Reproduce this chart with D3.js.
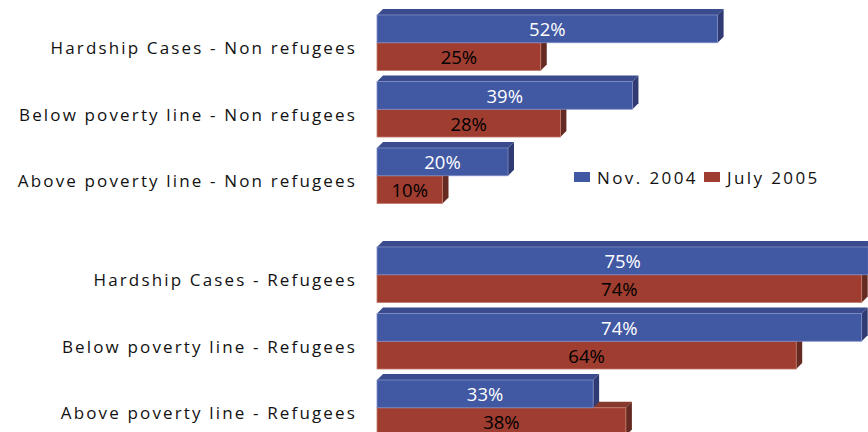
<!DOCTYPE html>
<html>
<head>
<meta charset="utf-8">
<script src="https://cdn.jsdelivr.net/npm/d3@7"></script>
<style>
  body { margin: 0; background: #fff; }
  svg { display: block; font-family: "Open Sans", sans-serif; }
</style>
</head>
<body>
<div id="chart"></div>
<script>
// Data
const seriesNames = ['Nov. 2004', 'July 2005'];
const categoriesNonRefugees = ['Hardship Cases - Non refugees', 'Below poverty line - Non refugees', 'Above poverty line - Non refugees'];
const nov2004NonRefugees = [52, 39, 20];
const july2005NonRefugees = [25, 28, 10];
const categoriesRefugees = ['Hardship Cases - Refugees', 'Below poverty line - Refugees', 'Above poverty line - Refugees'];
const nov2004Refugees = [75, 74, 33];
const july2005Refugees = [74, 64, 38];

// Dimensions
const dimensions = { width: 868, height: 432, depth: 6 };

const colors = {
    'Nov. 2004': { front: '#4158a3', top: '#3a4b8e', side: '#2f3b72', edge: '#7f8dc5', text: '#ffffff' },
    'July 2005': { front: '#9e3d30', top: '#86392c', side: '#652a22', edge: '#c47a6d', text: '#000000' }
};

const xScale = d3.scaleLinear()
    .domain([0, 100])
    .range([377, 1032]);

const svg = d3.select('#chart')
    .append('svg')
    .attr('width', dimensions.width)
    .attr('height', dimensions.height);

function drawGroup(categories, novValues, julValues, yStart, yEnd) {
    const rows = categories.map((c, i) => ({
        category: c,
        values: [
            { series: 'July 2005', value: julValues[i] },
            { series: 'Nov. 2004', value: novValues[i] }
        ]
    }));

    const yScale = d3.scaleBand()
        .domain(categories)
        .range([yStart, yEnd])
        .padding(0.165);

    const inner = d3.scaleBand()
        .domain(seriesNames)
        .range([0, yScale.bandwidth()]);

    const g = svg.append('g');
    const d = dimensions.depth;
    const x0 = xScale(0);

    const row = g.selectAll('g.row')
        .data(rows)
        .join('g')
        .attr('class', 'row')
        .attr('transform', r => `translate(0, ${yScale(r.category)})`);

    // red drawn first so the blue bar above covers its top face
    const bar = row.selectAll('g.bar')
        .data(r => r.values)
        .join('g')
        .attr('class', 'bar');

    const h = inner.bandwidth();

    bar.append('polygon') // top face
        .attr('points', b => {
            const y = inner(b.series), x1 = xScale(b.value);
            return `${x0},${y} ${x0 + d},${y - d} ${x1 + d},${y - d} ${x1},${y}`;
        })
        .attr('fill', b => colors[b.series].top);

    bar.append('polygon') // side face
        .attr('points', b => {
            const y = inner(b.series), x1 = xScale(b.value);
            return `${x1},${y} ${x1 + d},${y - d} ${x1 + d},${y + h - d} ${x1},${y + h}`;
        })
        .attr('fill', b => colors[b.series].side);

    bar.append('rect') // front face
        .attr('x', x0)
        .attr('y', b => inner(b.series))
        .attr('width', b => xScale(b.value) - x0)
        .attr('height', h)
        .attr('fill', b => colors[b.series].front)
        .attr('stroke', b => colors[b.series].edge)
        .attr('stroke-width', 0.8);

    bar.append('text')
        .attr('x', b => (x0 + xScale(b.value)) / 2)
        .attr('y', b => inner(b.series) + h / 2)
        .attr('text-anchor', 'middle')
        .attr('dominant-baseline', 'central')
        .attr('fill', b => colors[b.series].text)
        .style('font-size', '18.5px')
        .text(b => b.value + '%');

    // Category labels
    g.selectAll('text.cat')
        .data(categories)
        .join('text')
        .attr('class', 'cat')
        .attr('x', 357)
        .attr('y', c => yScale(c) + yScale.bandwidth() / 2 + 5)
        .attr('text-anchor', 'end')
        .attr('dominant-baseline', 'central')
        .attr('fill', '#111')
        .style('font-size', '17px')
        .style('letter-spacing', '2.15px')
        .text(c => c);
}

drawGroup(categoriesNonRefugees, nov2004NonRefugees, july2005NonRefugees, 4, 214.5);
drawGroup(categoriesRefugees, nov2004Refugees, july2005Refugees, 236, 446.5);

// Legend
const legend = svg.append('g')
    .attr('transform', 'translate(574, 172)');
const legendX = [0, 130];
const item = legend.selectAll('g')
    .data(seriesNames)
    .join('g')
    .attr('transform', (s, i) => `translate(${legendX[i]}, 0)`);
item.append('rect')
    .attr('width', 16)
    .attr('height', 10)
    .attr('fill', s => colors[s].front);
item.append('text')
    .attr('x', 23)
    .attr('y', 5)
    .attr('dominant-baseline', 'central')
    .attr('fill', '#111')
    .style('font-size', '17px')
    .style('letter-spacing', '2.4px')
    .text(s => s);
</script>
</body>
</html>
